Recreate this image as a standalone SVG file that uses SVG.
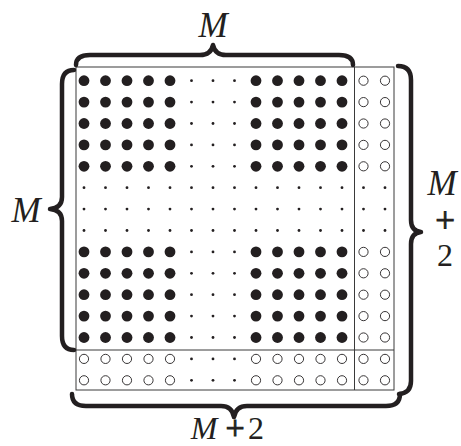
<svg xmlns="http://www.w3.org/2000/svg" xmlns:xlink="http://www.w3.org/1999/xlink" width="461" height="446" viewBox="0 0 461 446">
<style>
.big{fill:#231f20}
.sm{fill:#231f20}
.op{fill:#fff;stroke:#231f20;stroke-width:0.9}
.box{fill:none;stroke:#3a3a3a;stroke-width:1}
.brace{fill:none;stroke:#231f20;stroke-width:4.5;stroke-linecap:round;stroke-linejoin:round}
.lab{fill:#231f20}
.it{font-style:italic}
.pl{stroke:#231f20;stroke-width:0.9}
</style>
<defs>
<g id="rowA">
<circle class="big" cx="84" cy="0" r="5.4"/><circle class="big" cx="105.5" cy="0" r="5.4"/><circle class="big" cx="127" cy="0" r="5.4"/><circle class="big" cx="148.5" cy="0" r="5.4"/><circle class="big" cx="170" cy="0" r="5.4"/>
<circle class="sm" cx="191.5" cy="0" r="1.4"/><circle class="sm" cx="213" cy="0" r="1.4"/><circle class="sm" cx="234.5" cy="0" r="1.4"/>
<circle class="big" cx="256" cy="0" r="5.4"/><circle class="big" cx="277.5" cy="0" r="5.4"/><circle class="big" cx="299" cy="0" r="5.4"/><circle class="big" cx="320.5" cy="0" r="5.4"/><circle class="big" cx="342" cy="0" r="5.4"/>
<circle class="op" cx="363.5" cy="0" r="4.6"/><circle class="op" cx="385" cy="0" r="4.6"/>
</g>
<g id="rowB">
<circle class="sm" cx="84" cy="0" r="1.4"/><circle class="sm" cx="105.5" cy="0" r="1.4"/><circle class="sm" cx="127" cy="0" r="1.4"/><circle class="sm" cx="148.5" cy="0" r="1.4"/><circle class="sm" cx="170" cy="0" r="1.4"/>
<circle class="sm" cx="191.5" cy="0" r="1.4"/><circle class="sm" cx="213" cy="0" r="1.4"/><circle class="sm" cx="234.5" cy="0" r="1.4"/>
<circle class="sm" cx="256" cy="0" r="1.4"/><circle class="sm" cx="277.5" cy="0" r="1.4"/><circle class="sm" cx="299" cy="0" r="1.4"/><circle class="sm" cx="320.5" cy="0" r="1.4"/><circle class="sm" cx="342" cy="0" r="1.4"/>
<circle class="sm" cx="363.5" cy="0" r="1.4"/><circle class="sm" cx="385" cy="0" r="1.4"/>
</g>
<g id="rowC">
<circle class="op" cx="84" cy="0" r="4.6"/><circle class="op" cx="105.5" cy="0" r="4.6"/><circle class="op" cx="127" cy="0" r="4.6"/><circle class="op" cx="148.5" cy="0" r="4.6"/><circle class="op" cx="170" cy="0" r="4.6"/>
<circle class="sm" cx="191.5" cy="0" r="1.4"/><circle class="sm" cx="213" cy="0" r="1.4"/><circle class="sm" cx="234.5" cy="0" r="1.4"/>
<circle class="op" cx="256" cy="0" r="4.6"/><circle class="op" cx="277.5" cy="0" r="4.6"/><circle class="op" cx="299" cy="0" r="4.6"/><circle class="op" cx="320.5" cy="0" r="4.6"/><circle class="op" cx="342" cy="0" r="4.6"/>
<circle class="op" cx="363.5" cy="0" r="4.6"/><circle class="op" cx="385" cy="0" r="4.6"/>
</g>
</defs>
<rect width="461" height="446" fill="#fff"/>
<g id="box">
<rect class="box" x="76" y="67" width="318" height="323"/>
<line class="box" x1="354.5" y1="67" x2="354.5" y2="390"/>
<line class="box" x1="76" y1="350" x2="394" y2="350"/>
</g>
<g id="dots">
<use xlink:href="#rowA" y="80.7"/>
<use xlink:href="#rowA" y="102.1"/>
<use xlink:href="#rowA" y="123.5"/>
<use xlink:href="#rowA" y="144.9"/>
<use xlink:href="#rowA" y="166.3"/>
<use xlink:href="#rowB" y="187.7"/>
<use xlink:href="#rowB" y="209.1"/>
<use xlink:href="#rowB" y="230.5"/>
<use xlink:href="#rowA" y="251.9"/>
<use xlink:href="#rowA" y="273.3"/>
<use xlink:href="#rowA" y="294.7"/>
<use xlink:href="#rowA" y="316.1"/>
<use xlink:href="#rowA" y="337.5"/>
<use xlink:href="#rowC" y="358.9"/>
<use xlink:href="#rowC" y="380.3"/>
</g>
<g id="braces">
<path class="brace" d="M76,65 Q76,55 90,55 L200,55 Q211,55 213,45 Q215,55 226,55 L339,55 Q353,55 353,65"/>
<path class="brace" d="M74,70 Q62,70 62,84 L62,197 Q62,208 50,209 Q62,210 62,221 L62,336 Q62,350 74,350"/>
<path class="brace" d="M398,66 Q411,66 411,80 L411,220 Q411,231 421,232 Q411,233 411,244 L411,381 Q411,393 399,394"/>
<path class="brace" d="M72,394 Q72,406 86,406 L221,406 Q232,406 234,417 Q236,406 247,406 L386,406 Q400,406 400,394"/>
</g>
<g id="labels" font-family="'Liberation Serif', 'DejaVu Serif', serif" font-size="35">
<text class="lab it" x="213" y="37" text-anchor="middle">M</text>
<text class="lab it" x="26" y="222" text-anchor="middle">M</text>
<text class="lab it" x="442" y="195" text-anchor="middle">M</text>
<text class="lab pl" x="445" y="232" text-anchor="middle" font-size="35">+</text>
<text class="lab" x="445" y="266" text-anchor="middle" font-size="32">2</text>
<text class="lab it" x="204" y="439" text-anchor="middle" font-size="32">M</text>
<text class="lab pl" x="235" y="439" text-anchor="middle" font-size="34">+</text>
<text class="lab" x="256" y="439" text-anchor="middle" font-size="32">2</text>
</g>
</svg>
